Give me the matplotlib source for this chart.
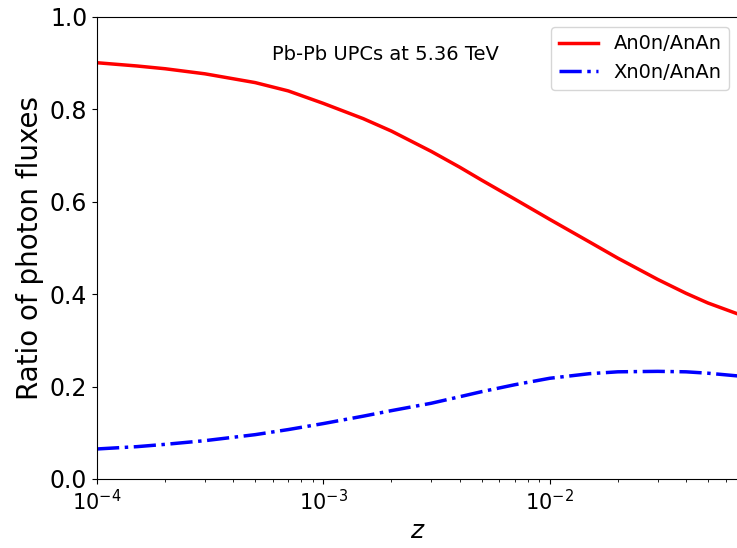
import matplotlib.pyplot as plt
import numpy as np

# photon energy fraction z
z = [1e-4, 1.5e-4, 2e-4, 3e-4, 5e-4, 7e-4, 1e-3, 1.5e-3, 2e-3, 3e-3, 4e-3, 5e-3, 7e-3,
     1e-2, 1.5e-2, 2e-2, 3e-2, 4e-2, 5e-2, 6.8e-2]
# An0n/AnAn ratio
an0n = [0.901, 0.894, 0.888, 0.877, 0.858, 0.840, 0.813, 0.780, 0.753, 0.709, 0.675, 0.647, 0.606,
        0.562, 0.513, 0.478, 0.432, 0.402, 0.381, 0.357]
# Xn0n/AnAn ratio
xn0n = [0.065, 0.070, 0.075, 0.083, 0.096, 0.107, 0.120, 0.136, 0.148, 0.164, 0.178, 0.189, 0.204,
        0.218, 0.228, 0.232, 0.233, 0.232, 0.229, 0.223]

fig = plt.figure(figsize=(7.37, 5.48), dpi=100)
ax = fig.add_axes([97 / 737, 69 / 548, 642 / 737, 462 / 548])

ax.plot(z, an0n, color='red', lw=2.5, label='An0n/AnAn')
ax.plot(z, xn0n, color='blue', lw=2.5, ls='-.', label='Xn0n/AnAn')

ax.set_xscale('log')
ax.set_xlim(1e-4, 0.0686)
ax.set_ylim(0, 1.0)
ax.set_xlabel('$z$', fontsize=18)
ax.set_ylabel('Ratio of photon fluxes', fontsize=20)
ax.tick_params(axis='x', which='major', labelsize=15)
ax.tick_params(axis='y', which='major', labelsize=17)
ax.text(0.273, 0.918, 'Pb-Pb UPCs at 5.36 TeV', transform=ax.transAxes,
        fontsize=14, va='center', ha='left')
ax.legend(loc='upper right', fontsize=14)

fig.savefig('out.png', dpi=100)
